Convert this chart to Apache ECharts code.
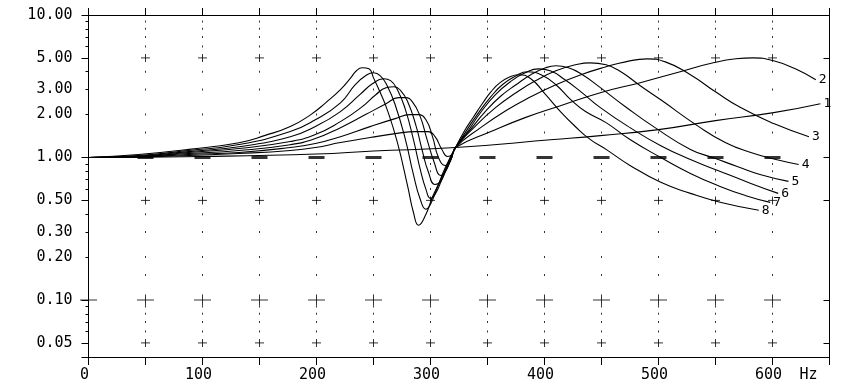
<!DOCTYPE html>
<html><head><meta charset="utf-8">
<script src="https://cdn.jsdelivr.net/npm/echarts@6/dist/echarts.min.js"></script>
<style>html,body{margin:0;padding:0;background:#fff}#c{width:846px;height:391px}</style>
</head><body><div id="c"></div>
<script>
// ---- data: [frequency Hz, ratio] ----
const curve1 = [[0,1],[100,1.016],[200,1.058],[250,1.11],[322,1.175],[408,1.336],[449,1.425],[500,1.569],[550,1.814],[601,2.065],[642,2.385]];
const curve2 = [[0,1],[44,1.008],[88,1.033],[132,1.066],[177,1.12],[199,1.175],[221,1.273],[247,1.38],[269,1.47],[287,1.52],[298,1.52],[304,1.40],[310,1.137],[315,1.016],[319,1.05],[322,1.175],[353,1.52],[383,1.905],[414,2.31],[449,2.85],[484,3.35],[519,4.0],[548,4.62],[568,4.93],[583,5.0],[601,4.77],[620,4.19],[638,3.51]];
const curve3 = [[0,1],[44,1.008],[88,1.05],[132,1.084],[177,1.175],[199,1.253],[221,1.40],[247,1.647],[269,1.874],[282,2.0],[289,2.0],[296,1.84],[302,1.38],[307,1.0],[313,0.879],[318,0.968],[322,1.175],[344,1.62],[366,2.13],[388,2.67],[410,3.24],[432,3.81],[454,4.33],[471,4.69],[490,4.925],[506,4.69],[528,3.81],[550,2.89],[572,2.24],[601,1.73],[632,1.40]];
const curve4 = [[0,1],[44,1.016],[88,1.066],[132,1.12],[177,1.23],[199,1.358],[221,1.62],[243,2.0],[261,2.386],[272,2.63],[278,2.63],[284,2.465],[291,1.935],[297,1.336],[303,0.938],[309,0.748],[313,0.798],[318,0.968],[322,1.175],[339,1.647],[357,2.237],[375,2.847],[392,3.455],[410,4.06],[427,4.47],[440,4.617],[454,4.47],[467,4.0],[484,3.19],[502,2.54],[534,1.674],[559,1.27],[581,1.084],[603,0.968],[623,0.894]];
const curve5 = [[0,1],[44,1.016],[88,1.084],[132,1.156],[177,1.294],[199,1.448],[221,1.785],[239,2.237],[252,2.758],[261,3.087],[268,3.14],[274,2.94],[280,2.465],[287,1.701],[293,1.101],[298,0.798],[304,0.647],[309,0.68],[314,0.851],[322,1.175],[335,1.57],[348,2.10],[361,2.67],[375,3.24],[388,3.81],[401,4.26],[410,4.40],[421,4.26],[432,3.868],[449,3.09],[471,2.273],[497,1.62],[528,1.14],[550,0.984],[569,0.865],[589,0.76],[614,0.68]];
const curve6 = [[0,1],[44,1.025],[88,1.10],[132,1.19],[177,1.40],[199,1.65],[221,2.10],[238,2.76],[249,3.29],[259,3.57],[265,3.46],[271,2.99],[278,2.17],[285,1.34],[291,0.824],[296,0.598],[300,0.517],[304,0.551],[310,0.702],[316,0.894],[322,1.175],[333,1.54],[344,2.07],[357,2.76],[370,3.40],[383,3.93],[395,4.19],[405,4.06],[418,3.51],[432,2.89],[449,2.24],[475,1.62],[502,1.21],[528,0.968],[552,0.811],[581,0.658],[605,0.560]];
const curve7 = [[0,1],[44,1.033],[88,1.119],[132,1.233],[177,1.52],[199,1.84],[221,2.42],[234,3.24],[243,3.745],[250,3.93],[256,3.745],[262,3.19],[269,2.347],[278,1.336],[285,0.76],[291,0.509],[296,0.433],[300,0.469],[306,0.617],[313,0.851],[322,1.175],[331,1.52],[341,2.0],[353,2.672],[363,3.24],[375,3.745],[385,3.995],[397,3.81],[410,3.24],[423,2.544],[436,2.10],[454,1.757],[475,1.336],[502,1.0],[528,0.773],[554,0.627],[576,0.542],[598,0.484]];
const curve8 = [[0,1],[44,1.05],[88,1.14],[132,1.27],[155,1.43],[177,1.65],[195,2.0],[208,2.42],[221,2.99],[230,3.62],[235,4.06],[240,4.26],[246,4.19],[250,3.62],[256,2.85],[262,2.17],[271,1.27],[280,0.627],[285,0.413],[289.5,0.335],[296,0.40],[302,0.534],[309,0.70],[316,0.923],[322,1.175],[329,1.50],[338,1.94],[346,2.42],[353,2.89],[361,3.35],[370,3.69],[377,3.81],[388,3.57],[401,2.76],[414,2.10],[427,1.65],[440,1.34],[454,1.14],[475,0.88],[502,0.67],[528,0.56],[554,0.485],[588,0.426]];
const curveNames = ['1','2','3','4','5','6','7','8'];
const curves = [curve1,curve2,curve3,curve4,curve5,curve6,curve7,curve8];

// ---- axis ticks / labels ----
const xLabelValues = [0,100,200,300,400,500,600];
const gridX = [50,100,150,200,250,300,350,400,450,500,550,600];
const yLabelValues = [10,5,3,2,1,0.5,0.3,0.2,0.1,0.05];
const yMajorTicks = [10,5,1,0.5,0.1,0.05];
const yMinorTicks = [9,8,7,6,4,3,2,0.9,0.8,0.7,0.6,0.4,0.3,0.2,0.09,0.08,0.07,0.06];
const yRightTicks = [5,1,0.5,0.1,0.05];
const gridDotValues = [9,8,7,6,4,3,2,1.5,0.9,0.8,0.7,0.6,0.4,0.3,0.2,0.15,0.09,0.08,0.07,0.06];
const plusSmallRows = [5,0.5,0.05];
const plusMidRows = [0.1];
const plusBoldRows = [1];
const X_MIN = 0, X_MAX = 650, X_STEP = 50;
const Y_MIN = Math.pow(10,-1.4), Y_MAX = 10;

const FONT = 'DejaVu Sans Mono';
const BLACK = '#000';

function grid2(xs, ys){ const out=[]; ys.forEach(y=>xs.forEach(x=>out.push([x,y]))); return out; }

const chart = echarts.init(document.getElementById('c'), null, {renderer:'canvas'});
const yBase = {type:'log', min:Y_MIN, max:Y_MAX, logBase:10, splitLine:{show:false}};
const series = [];
const markerStyle = {color:BLACK};
function markerSeries(data, size){
  return {type:'scatter', data, symbol:'rect', symbolSize:size, itemStyle:markerStyle, silent:true, z:1, animation:false, clip:false};
}
series.push(markerSeries(grid2(gridX, gridDotValues), [1,2]));
series.push(markerSeries(grid2(gridX, plusSmallRows), [9,1]));
series.push(markerSeries(grid2(gridX, plusSmallRows), [1,8]));
series.push(markerSeries(grid2([0].concat(gridX), plusMidRows), [17,1]));
series.push(markerSeries(grid2([0].concat(gridX), plusMidRows), [1,11]));
series.push(markerSeries(grid2(gridX, plusBoldRows), [16,3]));
curves.forEach((d,i)=>{
  series.push({
    type:'line', name:curveNames[i], data:d, showSymbol:false, smooth:0.5,
    lineStyle:{color:BLACK, width:1.1}, z:3, animation:false, silent:true,
    endLabel:{show:true, formatter:curveNames[i], color:BLACK, fontFamily:FONT, fontSize:13, distance:3}
  });
});

chart.setOption({
  animation:false,
  backgroundColor:'#fff',
  grid:{left:88.5, right:16.5, top:15, bottom:34, containLabel:false},
  xAxis:[
    {type:'value', min:X_MIN, max:X_MAX, interval:X_STEP, position:'bottom',
     axisLine:{show:true, lineStyle:{color:BLACK, width:1}},
     axisTick:{show:true, length:8, lineStyle:{color:BLACK}},
     axisLabel:{show:true, customValues:xLabelValues, color:BLACK, fontFamily:FONT, fontSize:15, margin:11, padding:[0,8,0,0]},
     splitLine:{show:false},
     name:'Hz', nameLocation:'end', nameGap:-12,
     nameTextStyle:{color:BLACK, fontFamily:FONT, fontSize:15, align:'right', verticalAlign:'top', padding:[11,0,0,0]}},
    {type:'value', min:X_MIN, max:X_MAX, interval:X_STEP, position:'top',
     axisLine:{show:true, lineStyle:{color:BLACK, width:1}},
     axisTick:{show:true, length:7, lineStyle:{color:BLACK}},
     axisLabel:{show:false}, splitLine:{show:false}}
  ],
  yAxis:[
    Object.assign({}, yBase, {position:'left',
     axisLine:{show:true, lineStyle:{color:BLACK, width:1}},
     axisTick:{show:true, length:7, customValues:yMajorTicks.concat([Y_MIN]), lineStyle:{color:BLACK}},
     axisLabel:{show:true, customValues:yLabelValues, formatter:v=>Number(v).toFixed(2), color:BLACK, fontFamily:FONT, fontSize:15, margin:16}}),
    Object.assign({}, yBase, {position:'left',
     axisLine:{show:false},
     axisTick:{show:true, length:3, customValues:yMinorTicks, lineStyle:{color:BLACK}},
     axisLabel:{show:false}}),
    Object.assign({}, yBase, {position:'right',
     axisLine:{show:true, lineStyle:{color:BLACK, width:1}},
     axisTick:{show:true, inside:true, length:6, customValues:yRightTicks, lineStyle:{color:BLACK}},
     axisLabel:{show:false}})
  ],
  series: series
});
</script></body></html>
